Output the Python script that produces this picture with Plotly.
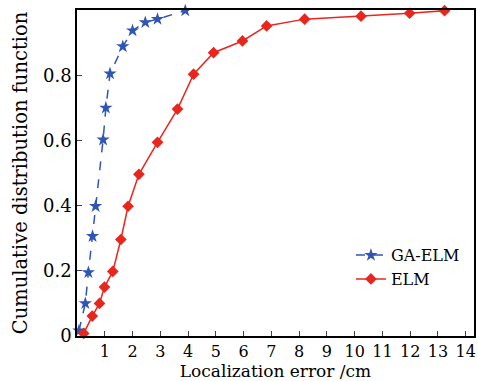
import plotly.graph_objects as go

ga_x = [0.07, 0.30, 0.41, 0.56, 0.67, 0.94, 1.04, 1.19, 1.65, 2.00, 2.46, 2.90, 3.90]
ga_y = [0.016, 0.10, 0.195, 0.306, 0.398, 0.602, 0.70, 0.805, 0.888, 0.937, 0.962, 0.972, 0.998]

elm_x = [0.24, 0.55, 0.81, 0.99, 1.29, 1.58, 1.84, 2.23, 2.90, 3.62, 4.20, 4.92, 5.96, 6.83, 8.20, 10.23, 11.98, 13.24]
elm_y = [0.008, 0.061, 0.10, 0.15, 0.198, 0.296, 0.398, 0.496, 0.594, 0.696, 0.803, 0.869, 0.905, 0.951, 0.972, 0.981, 0.990, 0.998]

x_ticks = list(range(1, 15))
y_ticks = [0, 0.2, 0.4, 0.6, 0.8, 1.0]
y_tick_text = ["0", "0.2", "0.4", "0.6", "0.8", "1.0"]

FONT = "DejaVu Serif"
BLUE = "#2f55b5"
RED = "#e8261e"

fig = go.Figure()
fig.add_trace(go.Scatter(
    x=ga_x, y=ga_y, name="GA-ELM", mode="lines+markers",
    line=dict(color=BLUE, width=1.5, dash="dash"),
    marker=dict(symbol="star", size=10, color=BLUE),
    cliponaxis=False,
))
fig.add_trace(go.Scatter(
    x=elm_x, y=elm_y, name="ELM", mode="lines+markers",
    line=dict(color=RED, width=1.5),
    marker=dict(symbol="diamond", size=9, color=RED),
    cliponaxis=False,
))

fig.update_layout(
    width=478, height=381,
    margin=dict(l=77, r=2, t=10, b=45),
    paper_bgcolor="white", plot_bgcolor="white",
    font=dict(family=FONT, color="black", size=17),
    showlegend=True,
    legend=dict(x=0.69, y=0.30, xanchor="left", yanchor="top",
                bgcolor="rgba(0,0,0,0)", font=dict(size=16, family=FONT),
                tracegroupgap=0, itemwidth=30),
)
fig.update_xaxes(
    range=[0, 14.3], tickvals=x_ticks, ticks="inside", ticklen=5, tickwidth=1.2,
    showline=True, linecolor="black", linewidth=1.5, mirror=True,
    showgrid=False, zeroline=False, tickfont=dict(size=16, family=FONT),
    title=dict(text="Localization error /cm", font=dict(size=17, family=FONT), standoff=3),
)
fig.update_yaxes(
    range=[0, 1.0], tickvals=y_ticks, ticktext=y_tick_text, ticks="inside", ticklen=5, tickwidth=1.2,
    showline=True, linecolor="black", linewidth=1.5, mirror=True,
    showgrid=False, zeroline=False, tickfont=dict(size=18, family=FONT),
    title=dict(text="Cumulative distribution function", font=dict(size=19.5, family=FONT), standoff=10),
)

fig.write_html("out.html")
